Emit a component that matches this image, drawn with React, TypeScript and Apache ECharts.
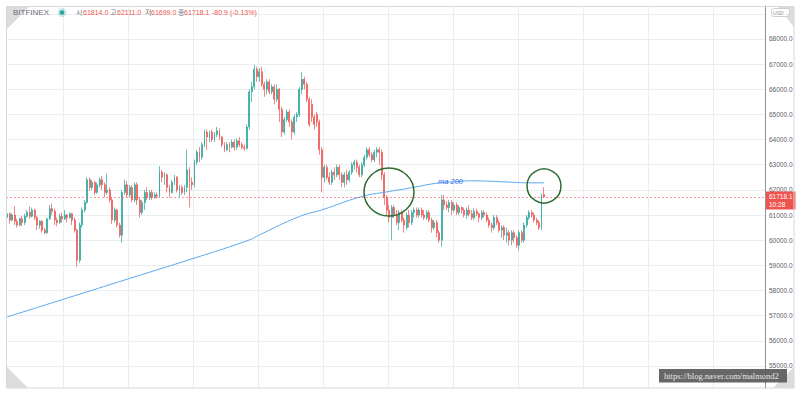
import React, { useEffect, useRef } from "react";
import * as echarts from "echarts";

// ---------- data ----------
const SLOT_COUNT = 304; // visible time slots on the x axis (candles occupy the first 216)
const slots: string[] = Array.from({ length: SLOT_COUNT }, (_, i) => String(i));

// [open, close, low, high]
const candles: number[][] = [
  [60900, 61050, 60700, 61150], [61050, 60800, 60650, 61100], [60800, 61000, 60750, 61080], [61000, 60750, 60600, 61350],
  [60750, 60600, 60500, 60850], [60600, 60850, 60550, 60900], [60850, 60700, 60550, 60950], [60700, 60950, 60600, 61050],
  [60950, 61100, 60900, 61200], [61100, 60950, 60850, 61350], [60950, 61200, 60900, 61300], [61200, 60900, 60800, 61250],
  [60900, 60600, 60400, 60950], [60600, 60750, 60450, 60800], [60750, 60400, 60300, 60800], [60400, 60300, 60250, 60500],
  [60300, 60850, 60250, 60900], [60850, 61250, 60800, 61400], [61250, 61150, 61000, 61450], [61150, 60800, 60600, 61250],
  [60800, 60700, 60550, 60900], [60700, 60950, 60650, 61050], [60950, 60850, 60700, 61100], [60850, 61000, 60800, 61200],
  [61000, 60900, 60700, 61050], [60900, 61050, 60850, 61100], [61050, 60800, 60600, 61100], [60800, 60400, 60300, 60900],
  [60400, 59200, 58950, 60450], [59200, 60600, 59100, 60700], [60600, 61200, 60500, 61300], [61200, 61500, 61100, 61600],
  [61500, 62400, 61450, 62500], [62400, 62100, 61950, 62500], [62100, 62300, 62000, 62400], [62300, 61900, 61800, 62350],
  [61900, 62200, 61850, 62300], [62200, 62400, 62100, 62500], [62400, 62200, 62000, 62550], [62200, 61900, 61700, 62300],
  [61900, 62000, 61800, 62650], [62000, 61600, 61500, 62100], [61600, 60800, 60650, 61700], [60800, 61200, 60700, 61300],
  [61200, 60600, 60500, 61250], [60600, 60200, 60100, 60700], [60200, 61900, 59900, 62000], [61900, 62200, 61800, 62400],
  [62200, 61800, 61700, 62350], [61800, 62100, 61700, 62200], [62100, 61600, 61500, 62200], [61600, 62200, 61500, 62300],
  [62200, 61600, 61400, 62300], [61600, 61100, 60900, 61700], [61100, 61500, 61000, 61600], [61500, 61900, 61200, 62000],
  [61900, 61700, 61600, 62100], [61700, 61900, 61600, 62000], [61900, 61700, 61600, 62000], [61700, 61800, 61650, 61900],
  [61800, 61750, 61650, 61900], [61750, 62700, 61700, 62950], [62700, 62500, 62300, 62800], [62500, 62600, 62200, 62700],
  [62600, 62100, 61900, 62650], [62100, 61900, 61700, 62200], [61900, 62300, 61850, 62400], [62300, 62500, 62200, 62600],
  [62500, 62000, 61900, 62550], [62000, 62100, 61700, 62200], [62100, 61900, 61800, 62200], [61900, 62100, 61800, 62200],
  [62100, 62800, 61900, 63600], [62800, 62300, 61300, 62900], [62300, 62200, 62000, 62500], [62200, 63100, 62100, 63200],
  [63100, 63500, 63000, 63600], [63500, 63300, 63100, 63700], [63300, 63800, 63200, 63900], [63800, 64300, 63700, 64400],
  [64300, 64100, 63600, 64400], [64100, 64300, 63900, 64350], [64300, 64000, 63900, 64400], [64000, 64200, 63900, 64300],
  [64200, 64350, 64100, 64500], [64350, 64100, 64000, 64450], [64100, 63800, 63700, 64150], [63800, 63600, 63500, 63900],
  [63600, 63800, 63550, 63900], [63800, 63700, 63500, 63900], [63700, 63900, 63650, 64000], [63900, 63700, 63550, 64000],
  [63700, 63950, 63600, 64050], [63950, 63800, 63700, 64100], [63800, 63700, 63600, 63900], [63700, 63650, 63550, 63800],
  [63650, 64500, 63600, 64600], [64500, 65900, 64400, 66000], [65900, 66100, 65500, 66300], [66100, 66800, 66000, 66970],
  [66800, 66500, 66300, 66900], [66500, 66700, 66300, 66850], [66700, 66200, 66100, 66900], [66200, 66000, 65700, 66300],
  [66000, 66300, 65800, 66400], [66300, 65900, 65800, 66400], [65900, 66100, 65800, 66200], [66100, 65600, 65400, 66200],
  [65600, 66000, 65500, 66200], [66000, 65200, 64700, 66050], [65200, 64300, 64100, 65300], [64300, 64800, 64200, 64900],
  [64800, 65100, 64700, 65200], [65100, 64700, 64500, 65200], [64700, 64300, 64000, 64800], [64300, 64900, 64200, 65000],
  [64900, 65000, 64700, 65100], [65000, 66000, 64900, 66100], [66000, 66400, 65800, 66700], [66400, 66200, 66000, 66500],
  [66200, 65600, 65500, 66300], [65600, 64600, 64500, 65700], [65400, 64900, 64700, 65600], [64900, 64600, 64400, 65000],
  [65000, 64700, 64500, 65100], [64700, 63600, 63400, 64800], [63600, 62500, 61900, 63700], [62500, 62900, 62300, 63000],
  [62900, 62500, 62400, 63000], [62500, 62300, 62200, 62700], [62300, 62700, 62200, 62800], [62700, 62600, 62400, 62900],
  [62600, 62900, 62500, 63000], [62900, 62600, 62400, 63000], [62600, 62300, 62100, 62700], [62300, 62600, 62100, 62700],
  [62600, 62400, 62200, 62800], [62400, 62700, 62300, 62800], [62700, 63000, 62600, 63100], [63000, 63100, 62800, 63200],
  [63100, 62900, 62700, 63200], [62900, 62600, 62500, 63000], [62600, 63000, 62500, 63100], [63000, 63300, 62900, 63400],
  [63300, 63600, 63200, 63700], [63600, 63400, 63300, 63700], [63400, 63200, 63100, 63500], [63200, 63500, 63100, 63600],
  [63500, 63600, 63300, 63700], [63600, 63500, 63000, 63700], [63500, 62600, 62400, 63600], [62600, 61700, 61400, 62700],
  [61700, 61200, 61000, 61800], [61200, 60900, 60700, 61400], [60900, 61300, 60000, 61400], [61300, 61000, 60900, 61400],
  [61000, 60700, 60600, 61200], [60700, 61100, 60400, 61200], [61100, 60800, 60700, 61200], [60800, 60600, 60300, 60900],
  [60500, 61000, 60400, 61100], [61000, 60700, 60500, 61200], [60700, 61100, 60600, 61200], [61100, 61200, 60900, 61300],
  [61200, 61000, 60900, 61300], [61000, 61200, 60900, 61300], [61200, 61000, 60900, 61300], [61000, 60900, 60800, 61200],
  [60900, 61100, 60800, 61200], [61100, 60800, 60700, 61200], [60800, 60500, 60300, 60900], [60500, 60700, 60400, 60800],
  [60700, 60300, 60100, 60800], [60300, 60000, 59900, 60400], [60000, 61600, 59740, 61800], [61600, 61400, 61200, 61800],
  [61400, 61300, 61200, 61550], [61300, 61500, 61100, 61600], [61500, 61200, 61000, 61600], [61200, 61400, 61100, 61500],
  [61400, 61100, 61000, 61500], [61100, 61300, 61000, 61400], [61300, 61200, 61050, 61350], [61200, 61000, 60900, 61300],
  [61000, 61200, 60850, 61300], [61200, 61050, 60950, 61400], [61050, 60900, 60800, 61200], [60900, 61150, 60800, 61250],
  [61150, 61050, 60950, 61250], [61050, 60900, 60700, 61100], [60900, 61100, 60800, 61200], [61100, 61000, 60900, 61200],
  [61000, 60800, 60700, 61100], [60800, 60600, 60500, 60900], [60600, 60500, 60300, 60700], [60500, 60900, 60400, 61000],
  [60900, 60700, 60600, 61000], [60700, 60400, 60300, 60800], [60400, 60500, 60100, 60600], [60500, 60200, 60000, 60600],
  [60200, 60300, 59900, 60500], [60300, 60000, 59800, 60400], [60000, 60300, 59800, 60400], [60300, 60100, 59900, 60400],
  [60100, 59800, 59700, 60200], [59800, 60300, 59600, 60400], [60300, 60000, 59900, 60400], [60000, 60600, 59900, 60700],
  [60600, 60900, 60500, 61000], [60900, 61100, 60800, 61200], [61100, 61000, 60900, 61200], [61000, 60800, 60700, 61100],
  [60800, 60700, 60600, 60900], [60700, 60500, 60400, 60800], [60500, 61814, 60400, 61850], [61814, 61718.1, 61699, 62111],
];

// 200-period moving average, sampled points [candle index, value]
const ma200: number[][] = [
  [0, 56950], [57, 58728], [74, 59257], [97, 60012], [101, 60211], [117, 60940], [126, 61205],
  [142, 61735], [152, 61920], [161, 62068], [173, 62280], [179, 62320], [186, 62360], [199, 62320],
  [210, 62280], [215, 62280],
];

const yMin = 54000;
const yMax = 69312;
const yStep = 1000;
const lastPrice = 61718.1;
const countdown = "10:28";

const exchange = "BITFINEX";
const headerLabels = ["시", "고", "저", "종"];
const headerValues = ["61814.0", "62111.0", "61699.0", "61718.1"];
const headerChange = "-80.9 (-0.13%)";
const maLabel = "ma 200";
const watermark = "https://blog.naver.com/malmond2";

// ---------- styles ----------
const UP = "#26a69a";
const DOWN = "#ef5350";
const GRID = "#e9eef3";
const MA = "#5aa8ef";
const FONT = '"Liberation Sans", "Noto Sans CJK KR", sans-serif';

export default function App() {
  const ref = useRef<HTMLDivElement>(null);

  useEffect(() => {
    if (!ref.current) return;
    const chart = echarts.init(ref.current, undefined, { renderer: "svg" });

    const headerX = [76, 110, 145, 178];
    const valueX = [83, 117, 151, 184];
    const headerTexts: any[] = [];
    headerLabels.forEach((l, i) => {
      headerTexts.push({
        type: "text", x: headerX[i], y: 12.5, z: 60,
        style: { text: l, fill: "#787b86", fontSize: 7, fontFamily: FONT, verticalAlign: "middle" },
      });
      headerTexts.push({
        type: "text", x: valueX[i], y: 12.5, z: 60,
        style: { text: headerValues[i], fill: DOWN, fontSize: 7, fontFamily: FONT, verticalAlign: "middle" },
      });
    });
    headerTexts.push({
      type: "text", x: 212, y: 12.5, z: 60,
      style: { text: headerChange, fill: DOWN, fontSize: 7, fontFamily: FONT, verticalAlign: "middle" },
    });

    const option: any = {
      animation: false,
      backgroundColor: "#ffffff",
      textStyle: { fontFamily: FONT },
      grid: { left: 6, right: 35, top: 6, bottom: 3.9, containLabel: false },
      xAxis: [
        {
          type: "category", data: slots, boundaryGap: true,
          axisLine: { show: false }, axisTick: { show: false }, axisLabel: { show: false }, splitLine: { show: false },
        },
        {
          type: "value", min: -57 / 65, max: 702 / 65, splitNumber: 11,
          axisLine: { show: false, onZero: false }, axisTick: { show: false }, axisLabel: { show: false },
          splitLine: { show: true, lineStyle: { color: GRID, width: 1 } },
        },
      ],
      yAxis: {
        type: "value", position: "right", min: yMin, max: yMax, interval: yStep,
        axisLine: { show: true, onZero: false, lineStyle: { color: "#8f929b", width: 1 } },
        axisTick: { show: false },
        axisLabel: {
          color: "#5d606b", fontSize: 6.5, margin: 4, showMaxLabel: false,
          formatter: (v: number) => (v >= 69000 ? "" : v.toFixed(1)),
        },
        splitLine: { show: true, lineStyle: { color: GRID, width: 1 } },
      },
      series: [
        {
          type: "candlestick",
          data: candles,
          barWidth: 1.4,
          itemStyle: { color: UP, color0: DOWN, borderColor: UP, borderColor0: DOWN, borderWidth: 0.7 },
          markLine: {
            silent: true,
            symbol: ["none", "none"],
            data: [{ yAxis: lastPrice }],
            lineStyle: { color: "rgba(239,83,80,0.6)", type: [2, 2], width: 1 },
            label: {
              show: true, position: "end", distance: 1, offset: [0, 3.5],
              formatter: `${lastPrice.toFixed(1)}\n${countdown}`,
              backgroundColor: DOWN, color: "#ffffff", fontSize: 6.5, lineHeight: 7.5,
              padding: [1.5, 3, 1.5, 3], fontFamily: FONT,
            },
          },
          z: 3,
        },
        {
          type: "line", data: ma200, smooth: true, symbol: "none",
          lineStyle: { color: MA, width: 1 }, z: 4,
        },
      ],
      graphic: [
        // bottom mask & frame
        { type: "rect", z: 50, shape: { x: 0, y: 388.5, width: 800, height: 7 }, style: { fill: "#ffffff" } },
        { type: "rect", z: 51, shape: { x: 6.5, y: 6.5, width: 787.5, height: 381.5 }, style: { fill: "none", stroke: "#d8d8d8", lineWidth: 1 } },
        // corner triangles
        { type: "polygon", z: 52, shape: { points: [[7, 7], [29, 7], [7, 29]] }, style: { fill: "#dcdcdc" } },
        { type: "polygon", z: 52, shape: { points: [[7, 367], [7, 388], [28, 388]] }, style: { fill: "#dcdcdc" } },
        { type: "polygon", z: 52, shape: { points: [[794, 367], [794, 388], [773, 388]] }, style: { fill: "#dcdcdc" } },
        { type: "polygon", z: 52, shape: { points: [[778, 7], [794, 7], [794, 27]] }, style: { fill: "#dcdcdc" } },
        // USD box
        { type: "rect", z: 53, shape: { x: 771.5, y: 8.5, width: 18, height: 8, r: 2 }, style: { fill: "#ffffff", stroke: "#c4c4c4", lineWidth: 0.8 } },
        { type: "text", z: 54, x: 773, y: 12.7, style: { text: "USD ⌄", fill: "#8a8a8a", fontSize: 5, fontFamily: '"DejaVu Sans", sans-serif', verticalAlign: "middle" } },
        // header
        { type: "text", z: 60, x: 13, y: 12.5, style: { text: exchange, fill: "#6a6d78", fontSize: 8, fontFamily: FONT, verticalAlign: "middle" } },
        { type: "circle", z: 60, shape: { cx: 62, cy: 12.5, r: 4.5 }, style: { fill: "rgba(38,166,154,0.22)" } },
        { type: "circle", z: 61, shape: { cx: 62, cy: 12.5, r: 2.3 }, style: { fill: UP } },
        ...headerTexts,
        // ma label
        { type: "text", z: 60, x: 438, y: 181, style: { text: maLabel, fill: "#2f6bf0", fontSize: 7.5, fontStyle: "italic", fontFamily: FONT, verticalAlign: "middle" } },
        // annotation circles
        { type: "ellipse", z: 62, shape: { cx: 389, cy: 192, rx: 25, ry: 24 }, style: { fill: "none", stroke: "#2e6a2f", lineWidth: 1.5 } },
        { type: "circle", z: 62, shape: { cx: 544, cy: 186, r: 17 }, style: { fill: "none", stroke: "#2e6a2f", lineWidth: 1.5 } },
        // watermark
        { type: "rect", z: 70, shape: { x: 659, y: 369, width: 128, height: 13.5 }, style: { fill: "rgba(90,90,90,0.92)" } },
        { type: "text", z: 71, x: 664, y: 375.8, style: { text: watermark, fill: "#e6e6e6", fontSize: 8.5, fontFamily: '"Liberation Serif", "DejaVu Serif", serif', verticalAlign: "middle" } },
      ],
    };

    chart.setOption(option);
    return () => chart.dispose();
  }, []);

  return (
    <div
      ref={ref}
      style={{ position: "fixed", left: 0, top: 0, width: 800, height: 395, background: "#fff" }}
    />
  );
}
